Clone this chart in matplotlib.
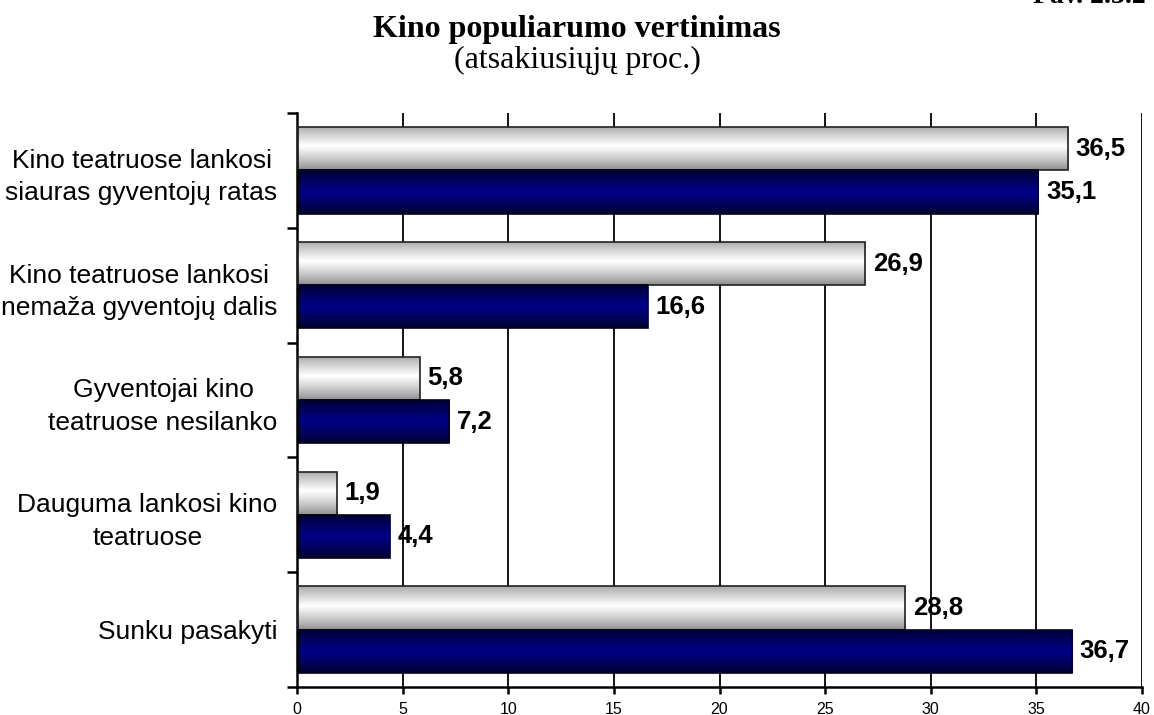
import matplotlib
matplotlib.use("Agg")
import matplotlib.pyplot as plt
import numpy as np

categories = [
    "Kino teatruose lankosi\nsiauras gyventojų ratas",
    "Kino teatruose lankosi\nnemaža gyventojų dalis",
    "Gyventojai kino\nteatruose nesilanko",
    "Dauguma lankosi kino\nteatruose",
    "Sunku pasakyti",
]
values_white = [36.5, 26.9, 5.8, 1.9, 28.8]
values_blue = [35.1, 16.6, 7.2, 4.4, 36.7]
x_ticks = [0, 5, 10, 15, 20, 25, 30, 35, 40]


def gradient(dark, light, n=64, peak=0.45):
    # vertical shade: dark at the edges, light near the middle
    t = np.linspace(0, 1, n)
    w = np.clip(1 - np.abs(t - peak) / max(peak, 1 - peak), 0, 1) ** 0.8
    dark = np.array(matplotlib.colors.to_rgb(dark))
    light = np.array(matplotlib.colors.to_rgb(light))
    rows = dark[None, :] * (1 - w[:, None]) + light[None, :] * w[:, None]
    return rows[:, None, :]


def shade_bars(ax, bars, img):
    for b in bars:
        x, y = b.get_x(), b.get_y()
        w, h = b.get_width(), b.get_height()
        im = ax.imshow(img, extent=[x, x + w, y + h, y], aspect="auto",
                       origin="upper", zorder=2, interpolation="bilinear")
        im.set_clip_path(b)


fig = plt.figure(figsize=(11.54, 7.15), dpi=100)
ax = fig.add_axes([0.2574, 0.0392, 0.7322, 0.8028])

pos = np.arange(len(categories))
h = 0.376
bw = ax.barh(pos - h / 2, values_white, height=h, facecolor="none",
             edgecolor="#222222", linewidth=1.2, zorder=3)
bb = ax.barh(pos + h / 2, values_blue, height=h, facecolor="none",
             edgecolor="#000020", linewidth=1.2, zorder=3)
shade_bars(ax, bw, gradient("#8a8a8a", "#ffffff"))
shade_bars(ax, bb, gradient("#00002a", "#000088", peak=0.5))

for p, v in zip(pos, values_white):
    ax.text(v + 0.35, p - h / 2, f"{v:.1f}".replace(".", ","), va="center",
            ha="left", fontsize=18.5, fontweight="bold", family="Liberation Sans")
for p, v in zip(pos, values_blue):
    ax.text(v + 0.35, p + h / 2, f"{v:.1f}".replace(".", ","), va="center",
            ha="left", fontsize=18.5, fontweight="bold", family="Liberation Sans")

ax.set_xlim(0, 40)
ax.set_ylim(len(categories) - 0.5, -0.5)
ax.set_xticks(x_ticks)
ax.set_xticklabels([str(t) for t in x_ticks], fontsize=11.5, family="Liberation Sans")
ax.tick_params(axis="x", direction="out", length=5, width=1.8, pad=6)

ax.set_yticks(np.arange(len(categories) + 1) - 0.5)
ax.set_yticklabels([])
ax.tick_params(axis="y", which="major", direction="out", length=7, width=1.8)
ax.set_yticks(pos, minor=True)
ax.set_yticklabels(categories, minor=True, fontsize=19, family="Liberation Sans",
                   multialignment="center", linespacing=1.45)
ax.tick_params(axis="y", which="minor", length=0, pad=14)

ax.xaxis.grid(True, color="black", linewidth=1.3)
ax.set_axisbelow(True)
for s in ["top", "right"]:
    ax.spines[s].set_visible(False)
for s in ["left", "bottom"]:
    ax.spines[s].set_linewidth(1.8)

fig.text(0.5, 0.948, "Kino populiarumo vertinimas", ha="center", va="baseline",
         fontsize=23, fontweight="bold", family="Liberation Serif")
fig.text(0.5, 0.905, "(atsakiusiųjų proc.)", ha="center", va="baseline",
         fontsize=23, family="Liberation Serif")
fig.text(0.993, 0.9958, "Pav. 2.3.2", ha="right", va="baseline",
         fontsize=20, fontweight="bold", family="Liberation Serif")

fig.savefig("out.png", dpi=100)
